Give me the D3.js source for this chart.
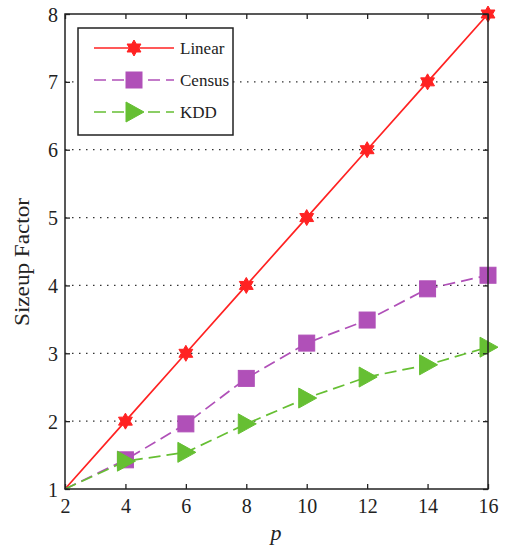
<!DOCTYPE html>
<html lang="en">
<head>
<meta charset="utf-8">
<title>Sizeup</title>
<script src="https://cdnjs.cloudflare.com/ajax/libs/d3/7.8.5/d3.min.js"></script>
<style>
body { margin: 0; background: #fff; }
svg text { font-family: "Liberation Serif", Tinos, "Times New Roman", Times, serif !important; }
</style>
</head>
<body>
<script>
var w = 508, h = 546;
var padL = 65, padR = 488, padT = 14, padB = 489;

var pValues = [2, 4, 6, 8, 10, 12, 14, 16];
var linear = [1, 2, 3, 4, 5, 6, 7, 8];
var census = [1, 1.43, 1.96, 2.63, 3.15, 3.49, 3.95, 4.15];
var kdd = [1, 1.41, 1.54, 1.96, 2.34, 2.65, 2.83, 3.09];
var xTicks = [2, 4, 6, 8, 10, 12, 14, 16];
var yTicks = [1, 2, 3, 4, 5, 6, 7, 8];
var gridY = [2, 3, 4, 5, 6, 7];

var series = [
  { name: "Linear", values: linear, color: "#ff2222", dash: null, marker: "star" },
  { name: "Census", values: census, color: "#b050b8", dash: "12,6", marker: "square" },
  { name: "KDD", values: kdd, color: "#66bf33", dash: "12,6", marker: "triangle" }
];

var x = d3.scaleLinear().domain([2, 16]).range([padL, padR]);
var y = d3.scaleLinear().domain([1, 8]).range([padB, padT]);

var svg = d3.select("body").append("svg").attr("width", w).attr("height", h);

// dotted grid
svg.selectAll("line.grid").data(gridY).enter().append("line")
  .attr("x1", padL).attr("x2", padR)
  .attr("y1", function(d) { return y(d); }).attr("y2", function(d) { return y(d); })
  .attr("stroke", "#333").attr("stroke-width", 1.2).attr("stroke-dasharray", "1.5,5.5");

function drawMarker(g, type, cx, cy, color) {
  if (type === "square") {
    g.append("rect").attr("x", cx - 8).attr("y", cy - 8).attr("width", 16).attr("height", 16)
      .attr("fill", color).attr("stroke", color);
  } else if (type === "triangle") {
    g.append("path").attr("d", "M" + (cx - 8) + "," + (cy - 10) + "L" + (cx + 10) + "," + cy + "L" + (cx - 8) + "," + (cy + 10) + "Z")
      .attr("fill", color).attr("stroke", color);
  } else {
    // hexagram
    var pts = [];
    for (var i = 0; i < 12; i++) {
      var r = i % 2 === 0 ? 8 : 4.6;
      var a = Math.PI / 2 + i * Math.PI / 6;
      pts.push([cx + r * Math.cos(a), cy - r * Math.sin(a)]);
    }
    g.append("path").attr("d", "M" + pts.join("L") + "Z").attr("fill", color).attr("stroke", color).attr("stroke-width", 1);
  }
}

var line = d3.line().x(function(d, i) { return x(pValues[i]); }).y(function(d) { return y(d); });

series.forEach(function(s) {
  svg.append("path").datum(s.values).attr("d", line)
    .attr("fill", "none").attr("stroke", s.color).attr("stroke-width", 1.7)
    .attr("stroke-dasharray", s.dash);
});
series.forEach(function(s) {
  var g = svg.append("g");
  s.values.forEach(function(v, i) {
    if (i === 0) return;
    drawMarker(g, s.marker, x(pValues[i]), y(v), s.color);
  });
});

// axes box
svg.append("rect").attr("x", padL).attr("y", padT).attr("width", padR - padL).attr("height", padB - padT)
  .attr("fill", "none").attr("stroke", "#222").attr("stroke-width", 1.5);

var xAxis = d3.axisBottom(x).tickValues(xTicks).tickSizeInner(-5).tickSizeOuter(0).tickPadding(10);
var gx = svg.append("g").attr("transform", "translate(0," + padB + ")").call(xAxis);
var yAxis = d3.axisLeft(y).tickValues(yTicks).tickFormat(d3.format("d")).tickSizeInner(-5).tickSizeOuter(0).tickPadding(7);
var gy = svg.append("g").attr("transform", "translate(" + padL + ",0)").call(yAxis);
svg.append("g").attr("transform", "translate(0," + padT + ")")
  .call(d3.axisTop(x).tickValues(xTicks).tickSizeInner(-5).tickSizeOuter(0).tickFormat(""));
svg.append("g").attr("transform", "translate(" + padR + ",0)")
  .call(d3.axisRight(y).tickValues(yTicks).tickSizeInner(-5).tickSizeOuter(0).tickFormat(""));

svg.selectAll(".domain").remove();
svg.selectAll(".tick line").attr("stroke", "#222").attr("stroke-width", 1.3);
svg.selectAll(".tick text").attr("font-size", 20).attr("fill", "#222");
gy.selectAll(".tick text").attr("dy", "0.35em");
gx.selectAll(".tick text").attr("dy", "0.7em");

// axis labels
svg.append("text").attr("x", 276).attr("y", 540).attr("text-anchor", "middle")
  .attr("font-size", 22).attr("font-style", "italic").attr("fill", "#222").text("p");
svg.append("text").attr("transform", "translate(29,262) rotate(-90)").attr("text-anchor", "middle")
  .attr("font-size", 20).attr("textLength", 128).attr("lengthAdjust", "spacingAndGlyphs")
  .attr("fill", "#222").text("Sizeup Factor");

// legend
var lg = svg.append("g");
lg.append("rect").attr("x", 78).attr("y", 28).attr("width", 155).attr("height", 107)
  .attr("fill", "#fff").attr("stroke", "#222").attr("stroke-width", 1.5);
series.forEach(function(s, i) {
  var ly = 48 + i * 32;
  lg.append("line").attr("x1", 94).attr("x2", 174).attr("y1", ly).attr("y2", ly)
    .attr("stroke", s.color).attr("stroke-width", 1.7).attr("stroke-dasharray", s.dash);
  drawMarker(lg, s.marker, 134, ly, s.color);
  lg.append("text").attr("x", 180).attr("y", ly).attr("dy", "0.35em")
    .attr("font-size", 17).attr("fill", "#222").text(s.name);
});
</script>
</body>
</html>
